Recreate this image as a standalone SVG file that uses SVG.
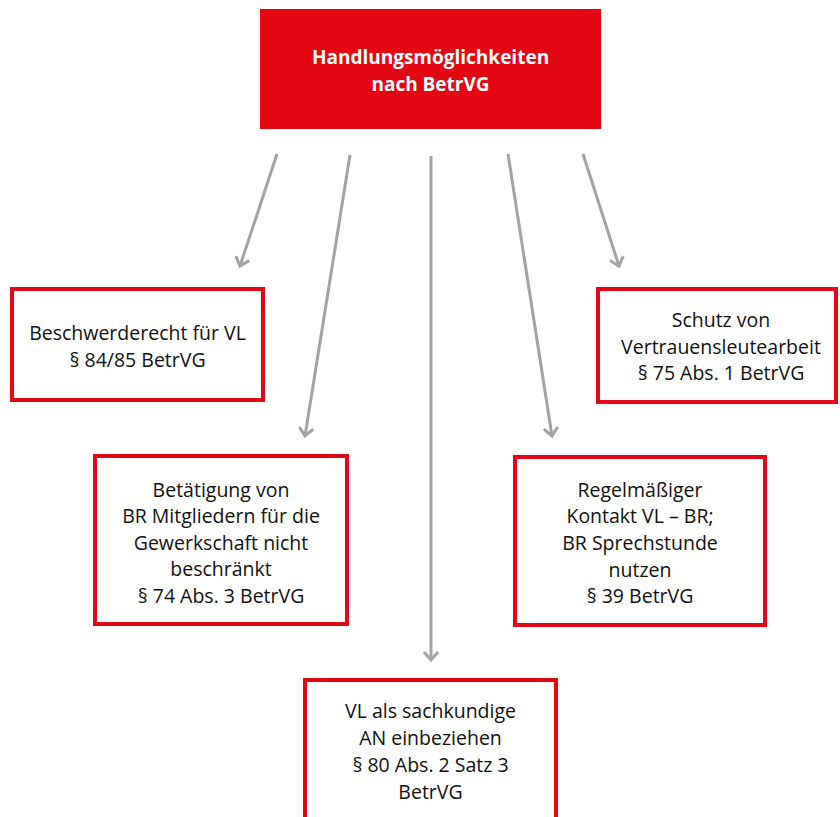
<svg xmlns="http://www.w3.org/2000/svg" width="840" height="817" viewBox="0 0 840 817">
<defs>
<style>
.box{fill:#fff;stroke:#e30613;stroke-width:4}
.t{font-family:"Open Sans","Liberation Sans",sans-serif;font-size:19.5px;fill:#111;text-anchor:middle}
.title{font-family:"Open Sans","Liberation Sans",sans-serif;font-size:19px;font-weight:bold;fill:#fff;text-anchor:middle}
.c{stroke:#a3a3a3;stroke-width:3;fill:none;marker-end:url(#ah)}
</style>
<marker id="ah" markerUnits="userSpaceOnUse" markerWidth="20" markerHeight="20" viewBox="-10 -10 20 20" refX="0" refY="0" orient="auto">
<path d="M-8,-7 L0,0 L-8,7" fill="none" stroke="#a3a3a3" stroke-width="3"/>
</marker>
</defs>
<rect width="840" height="817" fill="#fff"/>
<g id="connectors">
<line class="c" x1="277" y1="154" x2="240" y2="266"/>
<line class="c" x1="350" y1="155" x2="305" y2="436"/>
<line class="c" x1="431" y1="156" x2="431" y2="660"/>
<line class="c" x1="508" y1="154" x2="552" y2="436"/>
<line class="c" x1="583" y1="154" x2="619" y2="266"/>
</g>
<g id="root">
<rect x="260" y="9" width="341" height="120" fill="#e30613"/>
<text class="title" x="430.5" y="64">Handlungsmöglichkeiten</text>
<text class="title" x="430.5" y="91">nach BetrVG</text>
</g>
<g id="n1">
<rect class="box" x="12" y="289" width="251" height="111"/>
<text class="t" x="137.5" y="340">Beschwerderecht für VL</text>
<text class="t" x="137.5" y="367">§ 84/85 BetrVG</text>
</g>
<g id="n2">
<rect class="box" x="95" y="456" width="252" height="168"/>
<text class="t" x="221" y="497">Betätigung von</text>
<text class="t" x="221" y="523">BR Mitgliedern für die</text>
<text class="t" x="221" y="550">Gewerkschaft nicht</text>
<text class="t" x="221" y="576">beschränkt</text>
<text class="t" x="221" y="603">§ 74 Abs. 3 BetrVG</text>
</g>
<g id="n3">
<rect class="box" x="305" y="680" width="251" height="150"/>
<text class="t" x="430.5" y="718">VL als sachkundige</text>
<text class="t" x="430.5" y="745">AN einbeziehen</text>
<text class="t" x="430.5" y="772">§ 80 Abs. 2 Satz 3</text>
<text class="t" x="430.5" y="799">BetrVG</text>
</g>
<g id="n4">
<rect class="box" x="515" y="457" width="250" height="168"/>
<text class="t" x="640" y="497">Regelmäßiger</text>
<text class="t" x="640" y="523">Kontakt VL – BR;</text>
<text class="t" x="640" y="550">BR Sprechstunde</text>
<text class="t" x="640" y="577">nutzen</text>
<text class="t" x="640" y="603">§ 39 BetrVG</text>
</g>
<g id="n5">
<rect class="box" x="598" y="289" width="238" height="113"/>
<text class="t" x="721" y="327">Schutz von</text>
<text class="t" x="721" y="354">Vertrauensleutearbeit</text>
<text class="t" x="721" y="380">§ 75 Abs. 1 BetrVG</text>
</g>
</svg>
